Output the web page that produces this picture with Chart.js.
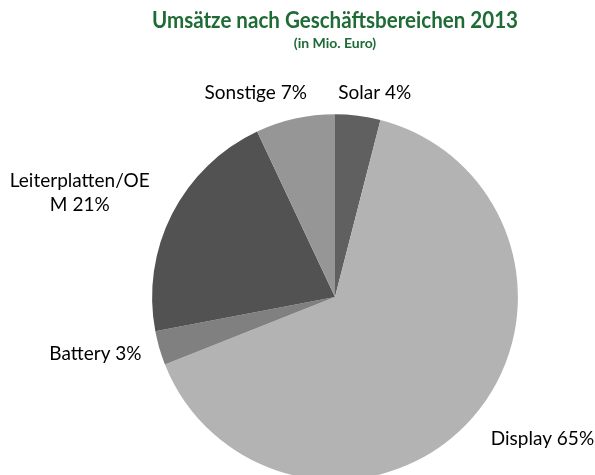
<!DOCTYPE html>
<html>
<head>
<meta charset="utf-8">
<script src="https://cdn.jsdelivr.net/npm/chart.js@4/dist/chart.umd.min.js"></script>
<style>
    html, body { margin: 0; padding: 0; background: #fff; overflow: hidden; }
    #wrap { width: 595px; height: 475px; overflow: hidden; }
</style>
</head>
<body>
<div id="wrap"><canvas id="umsatz" width="595" height="485"></canvas></div>
<script>
(function () {
    "use strict";

    // Daten (Anteil in %)
    const categories = ["Solar", "Display", "Battery", "Leiterplatten/OEM", "Sonstige"];
    const shares = [4, 65, 3, 21, 7];
    const sliceColors = ["#606060", "#b3b3b3", "#808080", "#525252", "#969696"];

    // label fine-tuning relative to the computed spot (px)
    const labelShift = [[11, -1], [24, 6], [-10, 0], [-21, -6], [-26, -4]];

    const labelFont = "19px Lato";
    const wrapChars = 16;

    // Data labels outside the slices
    const outsideLabels = {
        id: "outsideLabels",
        afterDatasetsDraw(chart) {
            const ctx = chart.ctx;
            const arcs = chart.getDatasetMeta(0).data;
            ctx.save();
            ctx.font = labelFont;
            ctx.fillStyle = "#000";
            ctx.textAlign = "center";
            ctx.textBaseline = "middle";
            arcs.forEach((arc, i) => {
                const text = categories[i] + " " + shares[i] + "%";
                const lines = [];
                for (let s = 0; s < text.length; s += wrapChars) {
                    lines.push(text.slice(s, s + wrapChars));
                }
                const lineH = 24;
                const w = Math.max(...lines.map((l) => ctx.measureText(l).width));
                const h = lineH * lines.length;
                const mid = (arc.startAngle + arc.endAngle) / 2;
                const dx = Math.cos(mid);
                const dy = Math.sin(mid);
                const r = arc.outerRadius + 10;
                const cx = arc.x + dx * r + dx * w / 2 + labelShift[i][0];
                const cy = arc.y + dy * r + dy * h / 2 + labelShift[i][1];
                lines.forEach((l, k) => {
                    ctx.fillText(l, cx, cy - h / 2 + lineH * (k + 0.5));
                });
            });
            ctx.restore();
        },
    };

    new Chart(document.getElementById("umsatz"), {
        type: "pie",
        data: {
            labels: categories,
            datasets: [
                {
                    data: shares,
                    backgroundColor: sliceColors,
                    borderWidth: 0,
                    offset: 0,
                    hoverOffset: 0,
                },
            ],
        },
        options: {
            responsive: false,
            animation: false,
            events: [],
            layout: {
                padding: { top: 0, left: 152, right: 77, bottom: 5 },
            },
            plugins: {
                legend: { display: false },
                tooltip: { enabled: false },
                title: {
                    display: true,
                    text: "Umsätze nach Geschäftsbereichen 2013",
                    color: "#1e6b36",
                    font: { family: "Lato", size: 22, weight: "bold", lineHeight: 1.2 },
                    padding: { top: 8, bottom: 0 },
                },
                subtitle: {
                    display: true,
                    text: "(in Mio. Euro)",
                    color: "#1e6b36",
                    font: { family: "Lato", size: 14, weight: "bold", lineHeight: 1.2 },
                    padding: { top: 1, bottom: 62 },
                },
            },
        },
        plugins: [outsideLabels],
    });
})();
</script>
</body>
</html>
